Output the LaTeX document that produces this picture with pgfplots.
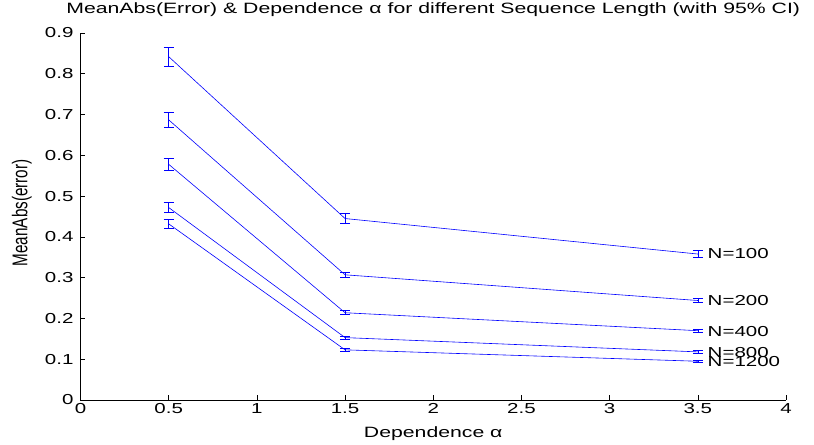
\documentclass[border=0pt]{standalone}
\usepackage{fontspec}
\setmainfont{Liberation Sans}[FakeStretch=1.42]
\newfontfamily\plainsans{Liberation Sans}[FakeStretch=1.0]
\usepackage{graphicx}
\usepackage{pgfplots}
\usepackage{pgfplotstable}
\pgfplotsset{compat=1.18}

\pgfplotstableread{
x y e
0.5 0.842 0.024
1.5 0.445 0.012
3.5 0.358 0.008
}\tA
\pgfplotstableread{
x y e
0.5 0.687 0.019
1.5 0.307 0.007
3.5 0.244 0.005
}\tB
\pgfplotstableread{
x y e
0.5 0.578 0.015
1.5 0.214 0.005
3.5 0.170 0.004
}\tC
\pgfplotstableread{
x y e
0.5 0.472 0.012
1.5 0.153 0.004
3.5 0.118 0.003
}\tD
\pgfplotstableread{
x y e
0.5 0.432 0.011
1.5 0.123 0.003
3.5 0.095 0.003
}\tE

\begin{document}
\begin{tikzpicture}
\path[use as bounding box] (-80.5bp,-45bp) rectangle (733.5bp,400bp);
\begin{axis}[
  scale only axis, width=705.5bp, height=367bp,
  at={(0,0)}, anchor=south west,
  xmin=0, xmax=4, ymin=0, ymax=0.9,
  axis lines=left, axis line style={-, black, line width=0.6bp},
  xtick={0,0.5,1,1.5,2,2.5,3,3.5,4},
  ytick={0,0.1,0.2,0.3,0.4,0.5,0.6,0.7,0.8,0.9},
  xticklabels={0,0.5,1,1.5,2,2.5,3,3.5,4},
  yticklabels={0,0.1,0.2,0.3,0.4,0.5,0.6,0.7,0.8,0.9},
  tick align=inside, major tick length=5bp,
  tick style={black, line width=0.6bp},
  ticklabel style={font=\fontsize{14.5}{14.5}\selectfont},
  yticklabel style={xshift=-3.5bp},
  title={MeanAbs(Error) \& Dependence α for different Sequence Length (with 95\% CI)},
  title style={at={(0.5,1)}, anchor=base, yshift=14bp, font=\fontsize{15}{15}\selectfont},
  xlabel={Dependence α},
  xlabel style={at={(axis description cs:0.5,0)}, anchor=base, yshift=-37bp, font=\fontsize{15}{15}\selectfont},
  ylabel={\scalebox{1}[1.4]{MeanAbs(error)}},
  ylabel style={at={(axis description cs:-0.083,0.51)}, anchor=center, font={\plainsans\fontsize{15.3}{16}\selectfont}},
  clip=false,
  every axis plot/.append style={blue, line width=0.6bp},
  error bars/y dir=both, error bars/y explicit,
  error bars/error bar style={blue, line width=0.6bp},
  error bars/error mark options={rotate=90, blue, mark size=5bp, line width=0.6bp},
]
\addplot[blue, mark=none] table[x=x, y=y, y error=e]{\tA};
\addplot[blue, mark=none] table[x=x, y=y, y error=e]{\tB};
\addplot[blue, mark=none] table[x=x, y=y, y error=e]{\tC};
\addplot[blue, mark=none] table[x=x, y=y, y error=e]{\tD};
\addplot[blue, mark=none] table[x=x, y=y, y error=e]{\tE};
\begin{scope}[every node/.style={anchor=west, inner sep=0pt, font=\fontsize{14.5}{14.5}\selectfont}]
\node at (axis cs:3.555,0.358) {N=100};
\node at (axis cs:3.555,0.243) {N=200};
\node at (axis cs:3.555,0.168) {N=400};
\node at (axis cs:3.555,0.116) {N=800};
\node at (axis cs:3.555,0.095) {N=1200};
\end{scope}
\end{axis}
\end{tikzpicture}
\end{document}
